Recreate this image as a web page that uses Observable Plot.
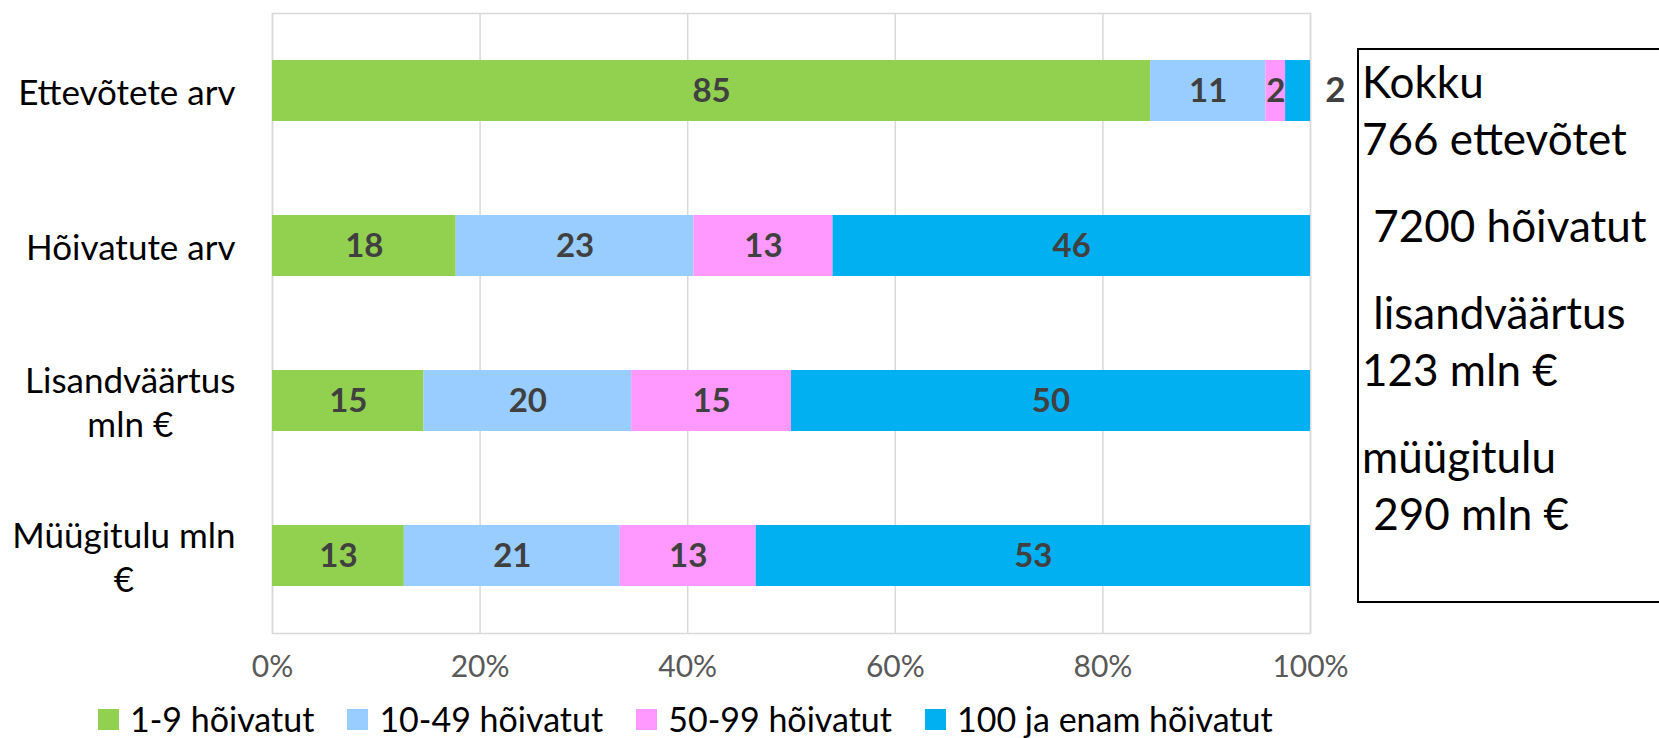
<!DOCTYPE html>
<html><head><meta charset="utf-8">
<script src="https://cdn.jsdelivr.net/npm/d3@7"></script>
<script src="https://cdn.jsdelivr.net/npm/@observablehq/plot@0.6"></script>
<style>
body{margin:0;background:#fff;font-family:Lato,sans-serif;overflow:hidden;}
#wrap{position:relative;width:1659px;height:738px;overflow:hidden;}
#wrap svg{display:block;}
#legend{display:flex;align-items:center;height:38px;padding-left:98px;font-size:34px;line-height:38px;color:#000;white-space:nowrap;}
#legend .item{display:flex;align-items:center;margin-right:33px;}
#legend .sw{width:21px;height:21px;margin-right:11px;}
#box{position:absolute;left:1357px;top:48px;width:340px;height:555px;border:2px solid #000;box-sizing:border-box;padding:3px 0 0 3px;font-size:44px;color:#000;}
#box .ln{height:57px;line-height:57px;white-space:pre;}
#box .para + .para{margin-top:30px;}
</style></head><body><div id="wrap"></div>
<script>
const categories = ["Ettevõtete arv", "Hõivatute arv", "Lisandväärtus mln €", "Müügitulu mln €"];
const categoryLabels = ["Ettevõtete arv", "Hõivatute arv", "Lisandväärtus\nmln €", "Müügitulu mln\n€"];
const sizes = ["1-9 hõivatut", "10-49 hõivatut", "50-99 hõivatut", "100 ja enam hõivatut"];
const colors = ["#92D050", "#99CCFF", "#FF99FF", "#00B0F0"];
const share1to9 = [84.6, 17.7, 14.6, 12.7];
const share10to49 = [11.1, 22.9, 20.0, 20.8];
const share50to99 = [1.9, 13.4, 15.4, 13.1];
const share100plus = [2.4, 46.0, 50.0, 53.4];
const xTicks = [0, 20, 40, 60, 80, 100];
const totalsText = [["Kokku", "766 ettevõtet"], [" 7200 hõivatut"], [" lisandväärtus", "123 mln €"], ["müügitulu", " 290 mln €"]];

const series = [share1to9, share10to49, share50to99, share100plus];
const data = [];
categories.forEach((c, i) => series.forEach((arr, j) => data.push({category: c, size: sizes[j], value: arr[i]})));
const isOutside = d => d.category === categories[0] && d.size === sizes[3];
const fmt = d => String(Math.round(d.value));

const chart = Plot.plot({
  width: 1659, height: 700,
  marginLeft: 272, marginRight: 349, marginTop: 13, marginBottom: 67,
  style: {fontFamily: "Lato, sans-serif", background: "#fff", overflow: "visible"},
  x: {domain: [0, 100], label: null},
  y: {domain: categories, paddingInner: 0.606, paddingOuter: 0.303, label: null},
  color: {domain: sizes, range: colors},
  marks: [
    Plot.gridX(xTicks, {stroke: "#d9d9d9", strokeOpacity: 1, strokeWidth: 1.5}),
    Plot.frame({stroke: "#d9d9d9", strokeWidth: 1.5}),
    Plot.barX(data, {x: "value", y: "category", fill: "size"}),
    Plot.text(data, Plot.stackX({x: "value", y: "category", z: "size", text: d => isOutside(d) ? "" : fmt(d), fill: "#404040", fontWeight: "bold", fontSize: 33})),
    Plot.text(data, Plot.stackX2({x: "value", y: "category", z: "size", text: d => isOutside(d) ? fmt(d) : "", dx: 25, fill: "#404040", fontWeight: "bold", fontSize: 35})),
    Plot.axisX({ticks: xTicks, tickSize: 0, tickPadding: 22, fontSize: 30, fill: "#595959", tickFormat: d => d + "%", label: null}),
    Plot.axisY({tickSize: 0, tickPadding: 37, fontSize: 35, fill: "#000", lineHeight: 1.27, tickFormat: c => categoryLabels[categories.indexOf(c)], label: null})
  ]
});

const wrap = document.getElementById("wrap");
wrap.appendChild(chart);

// legend
const legend = document.createElement("div");
legend.id = "legend";
sizes.forEach((s, i) => {
  const it = document.createElement("div"); it.className = "item";
  const sw = document.createElement("div"); sw.className = "sw"; sw.style.background = colors[i];
  const tx = document.createElement("span"); tx.textContent = s;
  it.appendChild(sw); it.appendChild(tx); legend.appendChild(it);
});
wrap.appendChild(legend);

// totals box
const box = document.createElement("div");
box.id = "box";
totalsText.forEach(p => {
  const para = document.createElement("div"); para.className = "para";
  p.forEach(l => { const ln = document.createElement("div"); ln.className = "ln"; ln.textContent = l; para.appendChild(ln); });
  box.appendChild(para);
});
wrap.appendChild(box);

// center multi-line category labels on their widest line (as in the original)
d3.select(chart).selectAll('[aria-label="y-axis tick label"] text').each(function() {
  const tsp = this.querySelectorAll("tspan");
  if (tsp.length > 1) {
    const b = this.getBBox();
    const cx = b.x + b.width / 2;
    this.setAttribute("text-anchor", "middle");
    tsp.forEach(t => t.setAttribute("x", cx));
  }
});
</script></body></html>
